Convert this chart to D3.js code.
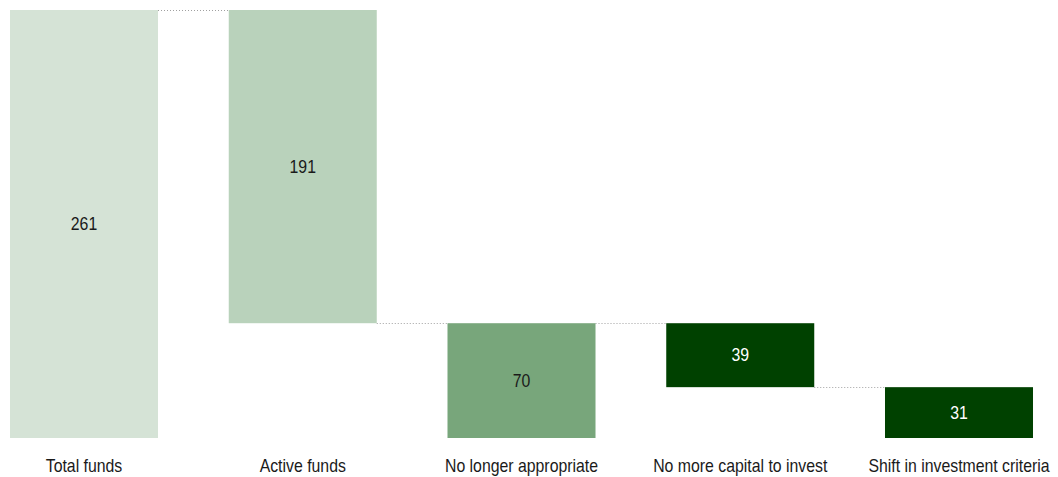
<!DOCTYPE html>
<html>
<head>
<meta charset="utf-8">
<script src="https://cdn.jsdelivr.net/npm/d3@7/dist/d3.min.js"></script>
<style>
  html, body { margin: 0; padding: 0; background: #fff; overflow: hidden; }
  svg text { font-family: "Liberation Sans", Arial, sans-serif; }
</style>
</head>
<body>
<svg id="chart" width="1058" height="477"></svg>
<script>
// Fund breakdown waterfall
const categories = ["Total funds", "Active funds", "No longer appropriate", "No more capital to invest", "Shift in investment criteria"];
const values = [261, 191, 70, 39, 31];
const bases = [0, 70, 0, 31, 0];
const colors = ["#d5e3d6", "#b9d2bb", "#78a67b", "#004100", "#004100"];
const labelColors = ["#1a1a1a", "#1a1a1a", "#1a1a1a", "#ffffff", "#ffffff"];

// narrow face emulated by squeezing a regular sans horizontally
const narrow = 0.88;

const svg = d3.select("#chart");

const x = d3.scaleBand()
  .domain(categories)
  .range([0, 1043])
  .paddingInner(0.3234)
  .paddingOuter(0.0457);

const y = d3.scaleLinear()
  .domain([0, 261])
  .range([438, 10]);

const data = categories.map((c, i) => ({
  cat: c, value: values[i], base: bases[i], color: colors[i], lc: labelColors[i]
}));

// connectors between neighbouring bars, at the top of the following bar
const conn = svg.append("g");
for (let i = 0; i < data.length - 1; i++) {
  const level = data[i + 1].base + data[i + 1].value;
  conn.append("line")
    .attr("x1", x(data[i].cat) + x.bandwidth())
    .attr("x2", x(data[i + 1].cat))
    .attr("y1", Math.round(y(level)) + 0.5)
    .attr("y2", Math.round(y(level)) + 0.5)
    .attr("stroke", "#a0a0a0")
    .attr("stroke-width", 1)
    .attr("stroke-dasharray", "1,2");
}

svg.append("g").selectAll("rect")
  .data(data)
  .join("rect")
  .attr("x", d => x(d.cat))
  .attr("width", x.bandwidth())
  .attr("y", d => y(d.base + d.value))
  .attr("height", d => y(d.base) - y(d.base + d.value))
  .attr("fill", d => d.color);

svg.append("g").selectAll("text")
  .data(data)
  .join("text")
  .attr("transform", d => `translate(${x(d.cat) + x.bandwidth() / 2},${(y(d.base) + y(d.base + d.value)) / 2}) scale(${narrow},1)`)
  .attr("dy", "0.35em")
  .attr("text-anchor", "middle")
  .attr("font-size", 18)
  .attr("fill", d => d.lc)
  .text(d => d.value);

// category axis without line or ticks
const axis = svg.append("g")
  .attr("transform", "translate(0,438)")
  .call(d3.axisBottom(x).tickSize(0).tickPadding(0));
axis.select(".domain").remove();
axis.selectAll("text")
  .attr("y", 0)
  .attr("dy", "0.35em")
  .attr("transform", `translate(0,28) scale(${narrow},1)`)
  .attr("font-size", 18)
  .attr("fill", "#1a1a1a")
  .style("font-family", '"Liberation Sans", Arial, sans-serif');
</script>
</body>
</html>
